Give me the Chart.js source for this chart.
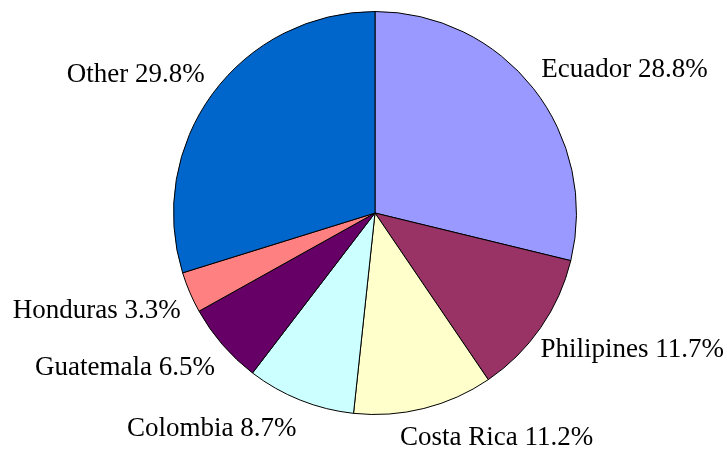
<!DOCTYPE html>
<html>
<head>
<meta charset="utf-8">
<script src="https://cdn.jsdelivr.net/npm/chart.js@4.4.1/dist/chart.umd.min.js"></script>
<style>
html,body{margin:0;padding:0;background:#fff;}
#wrap{width:727px;height:452px;position:relative;}
</style>
</head>
<body>
<div id="wrap"><canvas id="c" width="727" height="452"></canvas></div>
<script>
const categories = ["Ecuador", "Philipines", "Costa Rica", "Colombia", "Guatemala", "Honduras", "Other"];
const shares = [28.8, 11.7, 11.2, 8.7, 6.5, 3.3, 29.8];
const sliceColors = ["#9999FF", "#993366", "#FFFFCC", "#CCFFFF", "#660066", "#FF8080", "#0066CC"];

const FONT_SIZE = 27;
const CAP_H = 18;
const GAP_X = 10;
const GAP_Y = 19;
const EDGE = 3;

const outsideLabels = {
  id: 'outsideLabels',
  afterDatasetsDraw(chart) {
    const ctx = chart.ctx;
    const meta = chart.getDatasetMeta(0);
    const data = chart.data.datasets[0].data;
    ctx.save();
    ctx.font = FONT_SIZE + 'px "Liberation Serif", "Times New Roman", serif';
    ctx.fillStyle = '#000';
    ctx.textAlign = 'center';
    ctx.textBaseline = 'alphabetic';
    const clamp = v => Math.max(-1, Math.min(1, v));
    meta.data.forEach((arc, i) => {
      const mid = (arc.startAngle + arc.endAngle) / 2;
      const dx = Math.cos(mid), dy = Math.sin(mid);
      const ax = arc.x + (arc.outerRadius + GAP_X) * dx;
      const ay = arc.y + (arc.outerRadius + GAP_Y) * dy;
      const text = chart.data.labels[i] + ' ' + data[i].toFixed(1) + '%';
      const w = ctx.measureText(text).width;
      let cx = ax + (w / 2) * clamp(3 * dx);
      cx = Math.min(cx, chart.width - EDGE - w / 2);
      cx = Math.max(cx, EDGE + w / 2);
      const cy = ay + (CAP_H / 2) * clamp(3 * dy);
      ctx.fillText(text, cx, cy + CAP_H / 2);
    });
    ctx.restore();
  }
};

new Chart(document.getElementById('c'), {
  type: 'pie',
  data: {
    labels: categories,
    datasets: [{
      data: shares,
      backgroundColor: sliceColors,
      borderColor: '#000000',
      borderWidth: 1
    }]
  },
  options: {
    responsive: false,
    animation: false,
    layout: { padding: { left: 173, right: 150, top: 11, bottom: 37 } },
    plugins: {
      legend: { display: false },
      tooltip: { enabled: false }
    }
  },
  plugins: [outsideLabels]
});
</script>
</body>
</html>
